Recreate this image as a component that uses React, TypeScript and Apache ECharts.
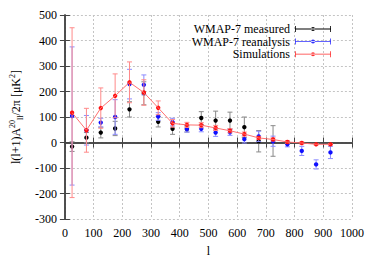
import React, { useEffect, useRef } from "react";
import * as echarts from "echarts";

const ells = [25, 75, 125, 175, 225, 275, 325, 375, 425, 475, 525, 575, 625, 675, 725, 775, 825, 875, 925];
const measured = [-16, 19, 39, 55, 130, 193, 81, 54, 53, 96, 86, 86, 60, 5, 6];
const measuredErr = [19, 20, 21, 28, 30, 45, 20, 22, 12, 25, 37, 33, 40, 42, 60];
const reanalysis = [104, 48, 78, 100, 229, 226, 102, 80, 53, 54, 39, 40, 13, 24, 5, -7, -33, -86, -39];
const reanalysisErr = [271, 58, 17, 68, 58, 39, 15, 15, 12, 12, 15, 12, 15, 20, 20, 10, 18, 18, 24];
const simulations = [117, 48, 135, 183, 236, 196, 136, 75, 69, 68, 57, 46, 33, 18, 12, 2, -2, -7, -7];
const simulationsErr = [333, 86, 79, 86, 80, 50, 27, 15, 10, 10, 10, 8, 8, 6, 6, 5, 4, 3, 3];

const seriesNames = ["WMAP-7 measured", "WMAP-7 reanalysis", "Simulations"];
const xTicks = { min: 0, max: 1000, interval: 100 };
const yTicks = { min: -300, max: 500, interval: 100 };

const FONT = '"Liberation Serif", "Times New Roman", serif';
const legendIcon =
  "path://M0 0H0.8V6H0Z M0 2.6H36V3.4H0Z M35.2 0H36V6H35.2Z M16 3a2 2 0 1 0 4 0a2 2 0 1 0 -4 0Z";

function makeErrSeries(name: string, vals: number[], errs: number[], errColor: string, ptColor: string) {
  const data = vals.map((v, i) => [ells[i], v, errs[i]]);
  return {
    type: "custom",
    name,
    data,
    encode: { x: 0, y: 1 },
    itemStyle: { color: ptColor },
    renderItem: (params: any, api: any) => {
      const x = api.value(0);
      const y = api.value(1);
      const e = api.value(2);
      const p = api.coord([x, y]);
      const t = api.coord([x, y + e]);
      const b = api.coord([x, y - e]);
      const cap = 2.5;
      const ls = { stroke: errColor, lineWidth: 1 };
      return {
        type: "group",
        children: [
          { type: "line", shape: { x1: p[0], y1: t[1], x2: p[0], y2: b[1] }, style: ls },
          { type: "line", shape: { x1: p[0] - cap, y1: t[1], x2: p[0] + cap, y2: t[1] }, style: ls },
          { type: "line", shape: { x1: p[0] - cap, y1: b[1], x2: p[0] + cap, y2: b[1] }, style: ls },
          { type: "circle", shape: { cx: p[0], cy: p[1], r: 2.2 }, style: { fill: ptColor, stroke: "none", lineWidth: 0 } },
        ],
      };
    },
  };
}

export default function App() {
  const ref = useRef<HTMLDivElement>(null);
  useEffect(() => {
    if (!ref.current) return;
    const chart = echarts.init(ref.current, undefined, { renderer: "svg" });
    const frame = { show: true, lineStyle: { color: "#444", width: 1.5 } };
    const tick = { show: true, inside: true, length: 5, lineStyle: { color: "#444", width: 1 } };
    const split = { show: true, lineStyle: { color: "#c4c4c4", width: 1, type: [2, 2] as any } };
    const label = { color: "#000", fontSize: 12, fontFamily: FONT, formatter: (v: number) => String(v) };
    chart.setOption({
      animation: false,
      backgroundColor: "#fff",
      textStyle: { fontFamily: FONT },
      grid: { left: 62, right: 22, top: 15, bottom: 40 },
      legend: {
        orient: "vertical",
        right: 38,
        top: 18,
        itemWidth: 36,
        itemHeight: 6,
        itemGap: 0.6,
        align: "right",
        selectedMode: false,
        textStyle: { color: "#000", fontSize: 12, lineHeight: 12, fontFamily: FONT },
        data: [
          { name: seriesNames[0], icon: legendIcon, itemStyle: { color: "#000" } },
          { name: seriesNames[1], icon: legendIcon, itemStyle: { color: "#3030ff" } },
          { name: seriesNames[2], icon: legendIcon, itemStyle: { color: "#ff3030" } },
        ],
      },
      xAxis: [
        {
          type: "value",
          ...xTicks,
          position: "bottom",
          name: "l",
          nameLocation: "middle",
          nameGap: 26,
          nameTextStyle: { color: "#000", fontSize: 12, fontFamily: FONT },
          axisLine: frame,
          axisTick: tick,
          splitLine: split,
          axisLabel: { ...label, margin: 8 },
        },
        {
          type: "value",
          ...xTicks,
          position: "top",
          axisLine: frame,
          axisTick: tick,
          splitLine: { show: false },
          axisLabel: { show: false },
        },
      ],
      yAxis: [
        {
          type: "value",
          ...yTicks,
          position: "left",
          name: "{t|l(l+1)A}{sup|20}{sub|ll}{t|/2π [μK}{sup|2}{t|]}",
          nameLocation: "middle",
          nameRotate: 90,
          nameGap: 40,
          nameTextStyle: {
            color: "#000",
            fontFamily: FONT,
            rich: {
              t: { fontSize: 12, lineHeight: 16, verticalAlign: "middle", fontFamily: FONT, color: "#000" },
              sup: { fontSize: 8, lineHeight: 16, verticalAlign: "top", fontFamily: FONT, color: "#000" },
              sub: { fontSize: 8, lineHeight: 16, verticalAlign: "bottom", fontFamily: FONT, color: "#000" },
            },
          },
          axisLine: frame,
          axisTick: tick,
          splitLine: split,
          axisLabel: { ...label, margin: 8 },
        },
        {
          type: "value",
          ...yTicks,
          position: "right",
          axisLine: frame,
          axisTick: tick,
          splitLine: { show: false },
          axisLabel: { show: false },
        },
      ],
      series: [
        makeErrSeries(seriesNames[0], measured, measuredErr, "#8a8a8a", "#000"),
        makeErrSeries(seriesNames[1], reanalysis, reanalysisErr, "#8c8cff", "#1010ff"),
        {
          type: "line",
          name: "_simline",
          data: simulations.map((v, i) => [ells[i], v]),
          symbol: "none",
          lineStyle: { color: "#ff7070", width: 1 },
          silent: true,
        },
        makeErrSeries(seriesNames[2], simulations, simulationsErr, "#ff8a8a", "#ff1010"),
      ],
    });
    return () => chart.dispose();
  }, []);
  return <div ref={ref} style={{ position: "fixed", left: 0, top: 0, width: 374, height: 262 }} />;
}
